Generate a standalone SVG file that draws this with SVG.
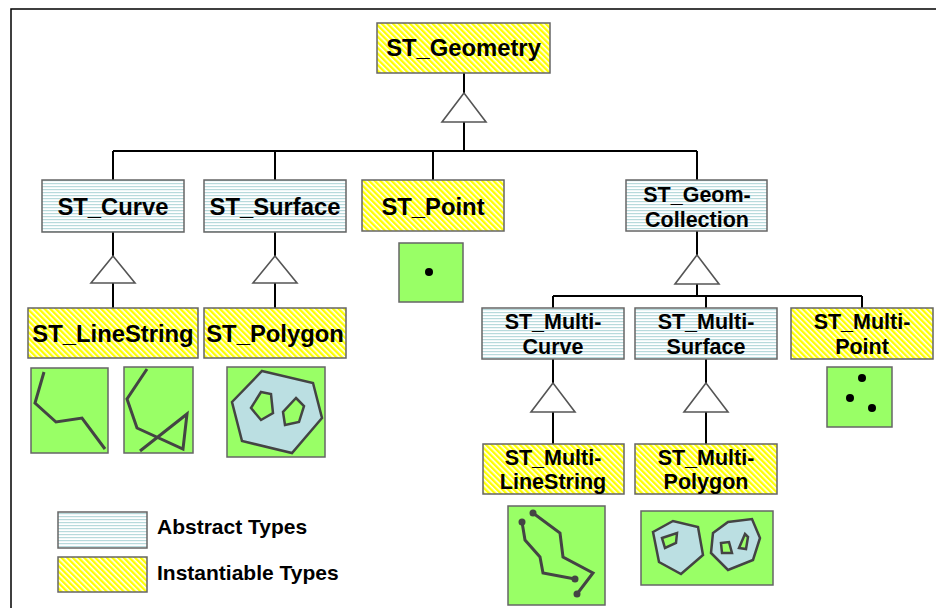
<svg xmlns="http://www.w3.org/2000/svg" width="936" height="608" viewBox="0 0 936 608">
  <defs>
    <pattern id="abstractFill" width="4" height="3" patternUnits="userSpaceOnUse">
      <rect width="4" height="3" fill="#ffffff"/>
      <rect width="4" height="1.2" fill="#b8dadc"/>
    </pattern>
    <pattern id="instFill" width="4" height="4" patternUnits="userSpaceOnUse" patternTransform="rotate(-45)">
      <rect width="4" height="4" fill="#ffffff"/>
      <rect width="2.4" height="4" fill="#ffff00"/>
    </pattern>
  </defs>
  <style>
    .abs { fill: url(#abstractFill); stroke: #666666; stroke-width: 1.5; }
    .inst { fill: url(#instFill); stroke: #666666; stroke-width: 1.5; }
    .lbl { font-family: "Liberation Sans", Arial, sans-serif; font-weight: bold; fill: #000; text-anchor: middle; }
    .big { font-size: 23.8px; }
    .mid { font-size: 21.5px; }
    .leg { font-family: "Liberation Sans", Arial, sans-serif; font-weight: bold; font-size: 21px; fill: #000; }
    .wire { stroke: #000; stroke-width: 2; fill: none; }
    .tri { fill: #fff; stroke: #555555; stroke-width: 1.6; }
    .pic { fill: #99ff66; stroke: #666666; stroke-width: 1.5; }
    .geo { fill: none; stroke: #444444; stroke-width: 3; stroke-linejoin: miter; }
    .area { fill: #bbdfe2; stroke: #444444; stroke-width: 2.5; }
    .hole { fill: #99ff66; stroke: #444444; stroke-width: 2.5; }
    .dot { fill: #000; }
    .ldot { fill: #444444; }
  </style>

  <!-- page frame -->
  <path d="M11 608 V9 H936" fill="none" stroke="#000" stroke-width="1.5"/>

  <!-- connectors -->
  <g id="connectors">
    <path class="wire" d="M464 73 V93 M464 122 V151 M113 151 H697 M113 151 V180 M275 151 V180 M433 151 V180 M697 151 V180"/>
    <path class="wire" d="M113 232 V256 M113 283 V308 M275 232 V256 M275 283 V308"/>
    <path class="wire" d="M697 231 V255 M697 284 V296 M553 296 H862 M553 296 V308 M706 296 V308 M862 296 V308"/>
    <path class="wire" d="M553 359 V383 M553 412 V444 M706 359 V383 M706 412 V444"/>
    <polygon class="tri" points="464,93 442,122 486,122"/>
    <polygon class="tri" points="113,256 91,283 135,283"/>
    <polygon class="tri" points="275,256 253,283 297,283"/>
    <polygon class="tri" points="697,255 675,284 719,284"/>
    <polygon class="tri" points="553,383 531,412 575,412"/>
    <polygon class="tri" points="706,383 684,412 728,412"/>
  </g>

  <g id="st-geometry">
    <rect class="inst" x="377" y="23" width="173" height="50"/>
    <text class="lbl big" x="463.5" y="56">ST_Geometry</text>
  </g>

  <g id="st-curve">
    <rect class="abs" x="42" y="180" width="142" height="52"/>
    <text class="lbl big" x="113" y="215">ST_Curve</text>
  </g>

  <g id="st-surface">
    <rect class="abs" x="204" y="180" width="142" height="52"/>
    <text class="lbl big" x="275" y="215">ST_Surface</text>
  </g>

  <g id="st-point">
    <rect class="inst" x="362" y="180" width="142" height="51"/>
    <text class="lbl big" x="433" y="215">ST_Point</text>
    <rect class="pic" x="399" y="243" width="64" height="59"/>
    <circle class="dot" cx="429" cy="272" r="4"/>
  </g>

  <g id="st-geomcollection">
    <rect class="abs" x="626" y="180" width="141" height="51"/>
    <text class="lbl mid" x="697" y="202">ST_Geom-</text>
    <text class="lbl mid" x="697" y="227">Collection</text>
  </g>

  <g id="st-linestring">
    <rect class="inst" x="28" y="308" width="170" height="50"/>
    <text class="lbl big" x="113" y="342">ST_LineString</text>
    <rect class="pic" x="31" y="368" width="77" height="85"/>
    <polyline class="geo" points="44,372 35,403 56,422 82,418 105,449"/>
    <rect class="pic" x="124" y="367" width="69" height="86"/>
    <polyline class="geo" points="147,369 127,399 137,428 183,449 187,414 140,451"/>
  </g>

  <g id="st-polygon">
    <rect class="inst" x="204" y="308" width="142" height="50"/>
    <text class="lbl big" x="275" y="342">ST_Polygon</text>
    <rect class="pic" x="227" y="367" width="98" height="90"/>
    <polygon class="area" points="262,371 313,383 322,418 292,453 242,441 232,402"/>
    <polygon class="hole" points="261,392 271,394 273,413 261,420 251,408"/>
    <polygon class="hole" points="296,398 304,406 299,422 285,425 283,412"/>
  </g>

  <g id="st-multicurve">
    <rect class="abs" x="482" y="308" width="142" height="51"/>
    <text class="lbl mid" x="553" y="329">ST_Multi-</text>
    <text class="lbl mid" x="553" y="354">Curve</text>
  </g>

  <g id="st-multisurface">
    <rect class="abs" x="635" y="308" width="142" height="51"/>
    <text class="lbl mid" x="706" y="329">ST_Multi-</text>
    <text class="lbl mid" x="706" y="354">Surface</text>
  </g>

  <g id="st-multipoint">
    <rect class="inst" x="791" y="308" width="142" height="51"/>
    <text class="lbl mid" x="862" y="329">ST_Multi-</text>
    <text class="lbl mid" x="862" y="354">Point</text>
    <rect class="pic" x="827" y="367" width="65" height="60"/>
    <circle class="dot" cx="862" cy="378" r="4"/>
    <circle class="dot" cx="850" cy="398" r="4"/>
    <circle class="dot" cx="872" cy="408" r="4"/>
  </g>

  <g id="st-multilinestring">
    <rect class="inst" x="483" y="444" width="141" height="50"/>
    <text class="lbl mid" x="553" y="465">ST_Multi-</text>
    <text class="lbl mid" x="553" y="489">LineString</text>
    <rect class="pic" x="508" y="506" width="97" height="99"/>
    <polyline class="geo" points="522,522 525,540 540,557 543,573 575,579"/>
    <polyline class="geo" points="533,513 560,533 563,557 593,573 577,594"/>
    <circle class="ldot" cx="522" cy="522" r="3.5"/>
    <circle class="ldot" cx="575" cy="579" r="3.5"/>
    <circle class="ldot" cx="533" cy="513" r="3.5"/>
    <circle class="ldot" cx="577" cy="594" r="3.5"/>
  </g>

  <g id="st-multipolygon">
    <rect class="inst" x="635" y="444" width="142" height="50"/>
    <text class="lbl mid" x="706" y="465">ST_Multi-</text>
    <text class="lbl mid" x="706" y="489">Polygon</text>
    <rect class="pic" x="641" y="511" width="132" height="74"/>
    <polygon class="area" points="653,532 673,521 698,527 703,555 681,574 659,562"/>
    <polygon class="hole" points="662,538 677,533 676,543 665,548"/>
    <polygon class="area" points="713,533 728,522 752,519 760,538 753,560 728,570 711,553"/>
    <polygon class="hole" points="721,543 729,542 732,553 722,553"/>
    <polygon class="hole" points="745,534 748,537 746,549 739,548"/>
  </g>

  <g id="legend">
    <rect class="abs" x="58" y="512" width="89" height="36"/>
    <text class="leg" x="157" y="534">Abstract Types</text>
    <rect class="inst" x="58" y="557" width="89" height="35"/>
    <text class="leg" x="157" y="580">Instantiable Types</text>
  </g>
</svg>
